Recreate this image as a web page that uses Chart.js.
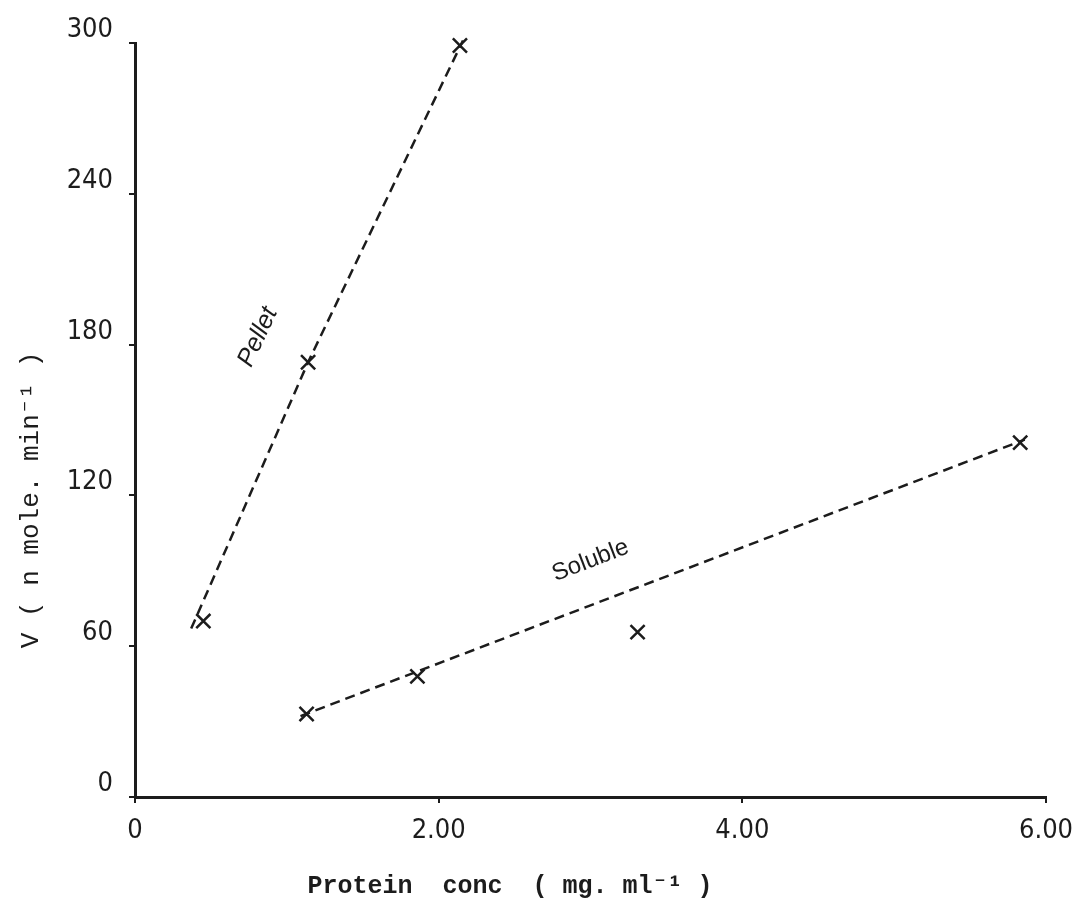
<!DOCTYPE html>
<html>
<head>
<meta charset="utf-8">
<script src="https://cdn.jsdelivr.net/npm/chart.js@4/dist/chart.umd.min.js"></script>
<style>
  html, body { margin: 0; padding: 0; background: #fff; }
  #wrap { width: 1078px; height: 906px; position: relative; }
</style>
</head>
<body>
<div id="wrap"><canvas id="chart"></canvas></div>
<script>
// Measured rates, protein conc (mg/ml) vs V (n mole/min)
const pelletX = [0.45, 1.14, 2.14];
const pelletY = [70, 173, 299];
const solubleX = [1.13, 1.86, 3.31, 5.83];
const solubleY = [33, 48, 65.6, 141];

// Hand-drawn trend lines (dashed)
const pelletLineX = [0.37, 1.14, 2.16];
const pelletLineY = [67, 173, 301];
const solubleLineX = [1.09, 5.86];
const solubleLineY = [32.2, 142.2];

const xTicks = [0, 2, 4, 6];
const yTicks = [0, 60, 120, 180, 240, 300];

const INK = '#1c1c1c';
const TICK_FONT = '"Liberation Sans Narrow", "DejaVu Sans Condensed", sans-serif';

const zip = (xs, ys) => xs.map((x, i) => ({ x, y: ys[i] }));

// text written on the plot next to each line
const curveLabels = [
  { text: 'Pellet', x: 0.81, y: 183, angle: -65, font: 'italic 25px "Liberation Sans", "Noto Sans", sans-serif' },
  { text: 'Soluble', x: 3.0, y: 94, angle: -21, font: '24px "Liberation Sans", "Noto Sans", sans-serif' },
];

const annotations = {
  id: 'annotations',
  afterDraw(chart) {
    const { ctx, scales: { x, y } } = chart;
    ctx.save();
    ctx.fillStyle = INK;
    ctx.textAlign = 'center';
    ctx.textBaseline = 'middle';
    curveLabels.forEach(l => {
      ctx.save();
      ctx.translate(x.getPixelForValue(l.x), y.getPixelForValue(l.y));
      ctx.rotate(l.angle * Math.PI / 180);
      ctx.font = l.font;
      ctx.fillText(l.text, 0, 0);
      ctx.restore();
    });

    // axis titles
    ctx.font = 'bold 25px "Liberation Mono", "DejaVu Sans Mono", monospace';
    ctx.fillText('Protein  conc  ( mg. ml\u207B\u00B9 )', 510, 887);

    ctx.save();
    ctx.translate(31, 500);
    ctx.rotate(-Math.PI / 2);
    ctx.font = '26px "Liberation Mono", "DejaVu Sans Mono", monospace';
    ctx.fillText('V ( n mole. min\u207B\u00B9 )', 0, 0);
    ctx.restore();
    ctx.restore();
  },
};

const lineStyle = {
  showLine: true,
  pointRadius: 0,
  borderColor: INK,
  borderWidth: 2.5,
  borderDash: [10, 6],
  fill: false,
  clip: false,
};

const markStyle = {
  pointStyle: 'crossRot',
  pointRadius: 10,
  borderColor: INK,
  borderWidth: 2.5,
  showLine: false,
  clip: false,
};

new Chart(document.getElementById('chart').getContext('2d'), {
  type: 'scatter',
  data: {
    datasets: [
      { label: 'Pellet line', data: zip(pelletLineX, pelletLineY), ...lineStyle },
      { label: 'Soluble line', data: zip(solubleLineX, solubleLineY), ...lineStyle },
      { label: 'Pellet', data: zip(pelletX, pelletY), ...markStyle },
      { label: 'Soluble', data: zip(solubleX, solubleY), ...markStyle },
    ],
  },
  options: {
    responsive: true,
    maintainAspectRatio: false,
    animation: false,
    layout: { padding: { left: 0, top: 43, right: 32, bottom: 0 } },
    plugins: {
      legend: { display: false },
      tooltip: { enabled: false },
    },
    scales: {
      x: {
        type: 'linear',
        min: 0,
        max: 6,
        afterBuildTicks: s => { s.ticks = xTicks.map(v => ({ value: v })); },
        // let the last label run into the right margin
        afterFit: s => { s.height = 109; s.paddingRight = 0; s.paddingLeft = 0; },
        border: { color: INK, width: 3 },
        grid: { drawOnChartArea: false, drawTicks: true, tickLength: 6, color: INK, lineWidth: 2 },
        ticks: {
          color: INK,
          padding: 12,
          maxRotation: 0,
          font: { size: 27, family: TICK_FONT },
          callback: v => v === 0 ? '0' : v.toFixed(2),
        },
      },
      y: {
        type: 'linear',
        min: 0,
        max: 300,
        afterBuildTicks: s => { s.ticks = yTicks.map(v => ({ value: v })); },
        afterFit: s => { s.width = 135; },
        border: { color: INK, width: 3 },
        grid: { drawOnChartArea: false, drawTicks: true, tickLength: 6, color: INK, lineWidth: 2 },
        ticks: {
          color: INK,
          padding: 16,
          labelOffset: -13,
          font: { size: 27, family: TICK_FONT },
        },
      },
    },
  },
  plugins: [annotations],
});
</script>
</body>
</html>
